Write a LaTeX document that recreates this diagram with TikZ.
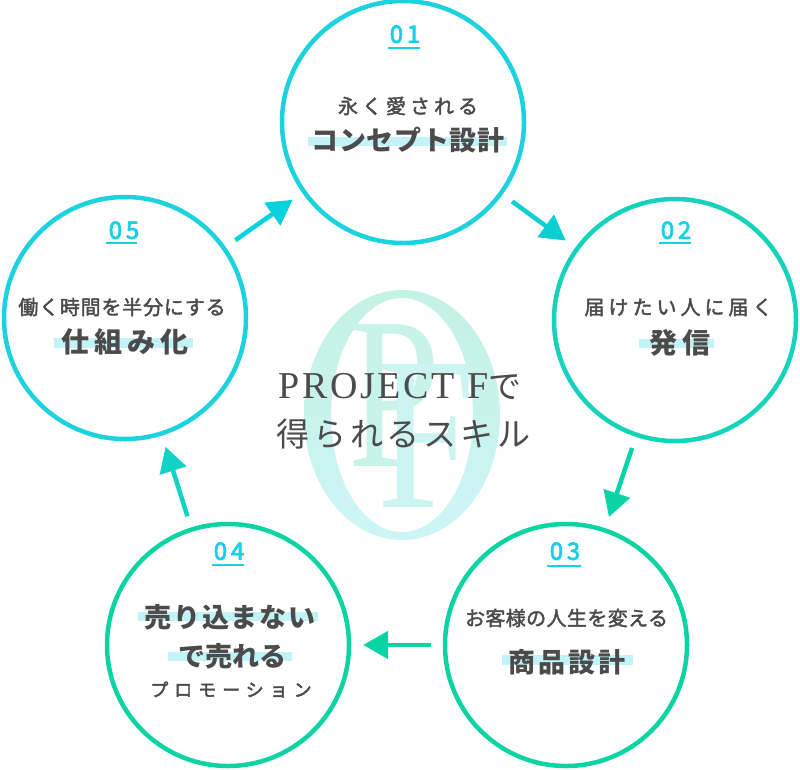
\documentclass[tikz,border=0pt]{standalone}
\usepackage{fontspec}
\usetikzlibrary{arrows.meta}
\newfontfamily\jp{Noto Sans CJK JP}
\newfontfamily\lser{Liberation Serif}
\newcommand\lsp[1]{\addfontfeature{LetterSpace=#1}}
\newcommand\fbold[1]{\addfontfeature{FakeBold=#1}}
\definecolor{cyanC}{HTML}{1CD2DE}
\definecolor{tealC}{HTML}{14D3BA}
\definecolor{greenC}{HTML}{0CD3A2}
\definecolor{numC}{HTML}{1ACEE5}
\definecolor{barC}{HTML}{C2F3F7}
\definecolor{textC}{HTML}{4B4B4B}
\definecolor{logoT}{HTML}{C4F2E3}
\definecolor{logoB}{HTML}{CDF5F6}
\definecolor{logoP}{HTML}{C8F3E8}
\definecolor{logoF}{HTML}{CCF5F2}
\definecolor{arr1}{HTML}{0ACFD2}
\definecolor{arr2}{HTML}{08D4A8}
\definecolor{arr3}{HTML}{07D5A4}
\definecolor{arr4}{HTML}{10D3C6}
\definecolor{arr5}{HTML}{05D2DC}
\begin{document}
\begin{tikzpicture}[x=1pt,y=-1pt,
  circ/.style={circle, draw, line width=4.5pt, minimum size=242pt, inner sep=0pt, outer sep=0pt},
  arr/.style={line width=4.5pt, -{Triangle[length=25pt,width=27pt]}, shorten <=14pt, shorten >=14pt},
  txt/.style={inner sep=0pt, anchor=base, text=textC},
  small/.style={txt},
  big/.style={txt, font=\jp\bfseries\fontsize{27}{27}\selectfont},
  num/.style={txt, text=numC, font=\jp\fontsize{24}{24}\selectfont\lsp{16}\fbold{3}},
  uline/.style={draw=numC, line width=2pt},
  hbar/.style={fill=barC}]
\fill[white] (0,0) rectangle (800,769);
\useasboundingbox (0,0) rectangle (800,769);

% logo
\path[even odd rule, top color=logoT, bottom color=logoB]
  (402,415) ellipse [x radius=98pt, y radius=125pt]
  (402,415) ellipse [x radius=71pt, y radius=117pt];
\node[inner sep=0pt, anchor=south west, text=logoP] (lp) at (348,467) {\resizebox{92pt}{142pt}{\lser P}};
\node[inner sep=0pt, anchor=south west, text=logoF] (lf) at (377,508) {\resizebox{98pt}{143pt}{\lser F}};

% circles
\node[circ, draw=cyanC]  (c1) at (403,122) {};
\node[circ, draw=tealC]  (c2) at (675,320) {};
\node[circ, draw=greenC] (c3) at (566,645) {};
\node[circ, draw=greenC] (c4) at (228,645) {};
\node[circ, draw=cyanC]  (c5) at (125,318) {};

% arrows
\draw[arr, draw=arr1, fill=arr1] (c1) -- (c2);
\draw[arr, draw=arr2, fill=arr2] (c2) -- (c3);
\draw[arr, draw=arr3, fill=arr3] (c3) -- (c4);
\draw[arr, draw=arr4, fill=arr4] (c4) -- (c5);
\draw[arr, draw=arr5, fill=arr5] (c5) -- (c1);

% bars
\path[hbar] (308,137) rectangle (507,146);
\path[hbar] (639,339) rectangle (714,348);
\path[hbar] (502,655) rectangle (633,665);
\path[hbar] (138,612) rectangle (318,621);
\path[hbar] (168,652) rectangle (292,661);
\path[hbar] (54,338) rectangle (193,348);

% underlines
\coordinate (u1a) at (388,48);  \coordinate (u1b) at (420,48);
\coordinate (u2a) at (659,243); \coordinate (u2b) at (691,243);
\coordinate (u3a) at (547,566); \coordinate (u3b) at (581,566);
\coordinate (u4a) at (212,565); \coordinate (u4b) at (244,565);
\coordinate (u5a) at (106,243); \coordinate (u5b) at (137,243);
\draw[uline] (u1a) -- (u1b);
\draw[uline] (u2a) -- (u2b);
\draw[uline] (u3a) -- (u3b);
\draw[uline] (u4a) -- (u4b);
\draw[uline] (u5a) -- (u5b);

% circle 01
\node[num] (n1) at (405,42.8) {01};
\node[small, font=\jp\fontsize{20}{20}\selectfont\lsp{20}\fbold{2}] (a1) at (408,113.6) {永く愛される};
\node[big, font=\jp\bfseries\fontsize{27}{27}\selectfont\lsp{2}] (b1) at (408,150.8) {コンセプト設計};
% circle 02
\node[num] (n2) at (676,238.8) {02};
\node[small, font=\jp\fontsize{20}{20}\selectfont\lsp{20}\fbold{2}] (a2) at (678.5,314.6) {届けたい人に届く};
\node[big, font=\jp\bfseries\fontsize{28}{28}\selectfont\lsp{20}] (b2) at (680,353.6) {発信};
% circle 03
\node[num] (n3) at (565,559.8) {03};
\node[small, font=\jp\fontsize{20}{20}\selectfont\lsp{2}\fbold{2}] (a3) at (566.5,625.6) {お客様の人生を変える};
\node[big, font=\jp\bfseries\fontsize{27}{27}\selectfont\lsp{12}] (b3) at (567,672.3) {商品設計};
% circle 04
\node[num] (n4) at (229,559.8) {04};
\node[big, font=\jp\bfseries\fontsize{27}{27}\selectfont\lsp{6}] (b4) at (230,627.3) {売り込まない};
\node[big] (b4b) at (232,666.3) {で売れる};
\node[small, font=\jp\fontsize{18}{18}\selectfont\lsp{33}\fbold{2.4}] (a4) at (231,696.5) {プロモーション};
% circle 05
\node[num] (n5) at (124,238.8) {05};
\node[small, font=\jp\fontsize{20}{20}\selectfont\lsp{4}\fbold{2}] (a5) at (122,314.6) {働く時間を半分にする};
\node[big, font=\jp\bfseries\fontsize{28}{28}\selectfont\lsp{18}] (b5) at (125,352.6) {仕組み化};

% center text
\node[txt] (t1) at (400,398) {{\lser\fontsize{38}{38}\selectfont\lsp{7}PROJECT F}{\jp\fontsize{33}{33}\selectfont で}};
\node[txt, font=\jp\fontsize{33}{33}\selectfont\lsp{12}] (t2) at (403.5,446.5) {得られるスキル};
\end{tikzpicture}
\end{document}
